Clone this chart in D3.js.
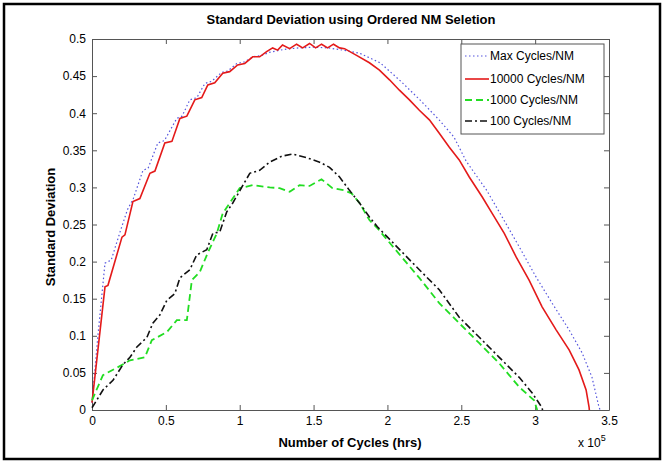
<!DOCTYPE html>
<html>
<head>
<meta charset="utf-8">
<script src="https://cdn.jsdelivr.net/npm/d3@7"></script>
<style>
  body { margin: 0; background: #fff; }
  svg { display: block; font-family: "Liberation Sans", Arial, sans-serif; }
</style>
</head>
<body>
<div id="chart"></div>
<script>
// x values are Number of Cycles (hrs) in units of 10^5
const xTicks = [0, 0.5, 1, 1.5, 2, 2.5, 3, 3.5];
const yTicks = [0, 0.05, 0.1, 0.15, 0.2, 0.25, 0.3, 0.35, 0.4, 0.45, 0.5];
const seriesNames = ["Max Cycles/NM", "10000 Cycles/NM", "1000 Cycles/NM", "100 Cycles/NM"];

const maxCycles = [
  [0, 0.01], [0.04, 0.1], [0.088, 0.198], [0.13, 0.202], [0.19, 0.24], [0.24, 0.27],
  [0.28, 0.285], [0.345, 0.323], [0.38, 0.326], [0.446, 0.36], [0.49, 0.363],
  [0.574, 0.393], [0.61, 0.396], [0.662, 0.418], [0.71, 0.421], [0.764, 0.44],
  [0.81, 0.443], [0.878, 0.455], [0.92, 0.457], [0.98, 0.467], [1.03, 0.469],
  [1.09, 0.476], [1.15, 0.478], [1.2, 0.482], [1.3, 0.486], [1.4, 0.488],
  [1.5, 0.489], [1.6, 0.488], [1.7, 0.485], [1.81, 0.481], [1.95, 0.468],
  [2.08, 0.445], [2.22, 0.418], [2.35, 0.391], [2.45, 0.368], [2.534, 0.335],
  [2.669, 0.297], [2.777, 0.26], [2.892, 0.22], [3.007, 0.179], [3.115, 0.144],
  [3.23, 0.108], [3.318, 0.077], [3.385, 0.044], [3.432, 0.004], [3.44, 0]
];
const cycles10000 = [
  [0, 0.01], [0.088, 0.166], [0.108, 0.168], [0.203, 0.233], [0.223, 0.236],
  [0.277, 0.281], [0.324, 0.285], [0.392, 0.319], [0.426, 0.322], [0.493, 0.36],
  [0.541, 0.362], [0.595, 0.393], [0.642, 0.396], [0.696, 0.418], [0.743, 0.421],
  [0.784, 0.438], [0.831, 0.441], [0.885, 0.454], [0.932, 0.456], [0.986, 0.465],
  [1.034, 0.467], [1.088, 0.476], [1.135, 0.476], [1.182, 0.483], [1.223, 0.488],
  [1.257, 0.485], [1.29, 0.492], [1.338, 0.487], [1.385, 0.493], [1.426, 0.488],
  [1.473, 0.494], [1.514, 0.488], [1.554, 0.493], [1.595, 0.488], [1.635, 0.493],
  [1.676, 0.488], [1.71, 0.487], [1.791, 0.478], [1.878, 0.468], [1.946, 0.458],
  [2.014, 0.445], [2.081, 0.431], [2.149, 0.418], [2.216, 0.404], [2.284, 0.391],
  [2.351, 0.373], [2.419, 0.354], [2.486, 0.337], [2.554, 0.314], [2.642, 0.287],
  [2.709, 0.265], [2.791, 0.238], [2.872, 0.206], [2.959, 0.175], [3.047, 0.139],
  [3.142, 0.108], [3.23, 0.081], [3.297, 0.054], [3.345, 0.027], [3.365, 0.004], [3.367, 0]
];
const cycles1000 = [
  [0, 0.013], [0.074, 0.047], [0.169, 0.057], [0.257, 0.067], [0.358, 0.071],
  [0.405, 0.094], [0.507, 0.105], [0.574, 0.121], [0.642, 0.121], [0.676, 0.175],
  [0.73, 0.186], [0.784, 0.212], [0.845, 0.238], [0.885, 0.265], [0.946, 0.283],
  [1.0, 0.299], [1.088, 0.303], [1.203, 0.3], [1.27, 0.299], [1.338, 0.294],
  [1.405, 0.303], [1.473, 0.302], [1.554, 0.311], [1.628, 0.299], [1.709, 0.296],
  [1.757, 0.292], [1.811, 0.279], [1.878, 0.256], [1.932, 0.245], [2.216, 0.178],
  [2.351, 0.144], [2.486, 0.117], [2.622, 0.09], [2.757, 0.063], [2.892, 0.031],
  [2.993, 0.013], [3.014, 0]
];
const cycles100 = [
  [0, 0.003], [0.074, 0.027], [0.142, 0.04], [0.209, 0.061], [0.257, 0.071],
  [0.304, 0.085], [0.372, 0.098], [0.412, 0.117], [0.459, 0.128], [0.507, 0.148],
  [0.561, 0.157], [0.595, 0.178], [0.662, 0.189], [0.709, 0.209], [0.777, 0.216],
  [0.818, 0.238], [0.865, 0.24], [0.912, 0.267], [0.953, 0.279], [1.068, 0.319],
  [1.135, 0.323], [1.203, 0.334], [1.284, 0.342], [1.358, 0.345], [1.453, 0.34],
  [1.541, 0.334], [1.608, 0.327], [1.676, 0.314], [1.743, 0.296], [1.811, 0.279],
  [1.878, 0.26], [1.932, 0.247], [2.216, 0.189], [2.351, 0.162], [2.486, 0.125],
  [2.622, 0.098], [2.757, 0.071], [2.892, 0.044], [2.98, 0.023], [3.047, 0.003], [3.05, 0]
];

const W = 667, H = 463;
const margin = { top: 39, right: 58, bottom: 53, left: 92 };
const width = W - margin.left - margin.right;
const height = H - margin.top - margin.bottom;

const svg = d3.select("#chart").append("svg")
  .attr("width", W)
  .attr("height", H);

// outer frame
svg.append("rect")
  .attr("x", 4).attr("y", 4)
  .attr("width", 656).attr("height", 455)
  .attr("fill", "none")
  .attr("stroke", "#000")
  .attr("stroke-width", 2.5);

const g = svg.append("g").attr("transform", `translate(${margin.left},${margin.top})`);

const x = d3.scaleLinear().domain([0, 3.5]).range([0, width]);
const y = d3.scaleLinear().domain([0, 0.5]).range([height, 0]);

const fmt = d => String(+d.toFixed(2));

// axes, ticks pointing inward like matlab
g.append("g")
  .attr("transform", `translate(0,${height})`)
  .call(d3.axisBottom(x).tickValues(xTicks).tickFormat(fmt).tickSize(-5).tickSizeOuter(0).tickPadding(6))
  .call(a => a.selectAll("text").attr("font-size", 12).attr("fill", "#000").attr("font-family", "Liberation Sans, Arial, sans-serif"));

g.append("g")
  .call(d3.axisLeft(y).tickValues(yTicks).tickFormat(fmt).tickSize(-5).tickSizeOuter(0).tickPadding(6))
  .call(a => a.selectAll("text").attr("font-size", 12).attr("fill", "#000").attr("font-family", "Liberation Sans, Arial, sans-serif"));

g.append("g")
  .call(d3.axisTop(x).tickValues(xTicks).tickFormat("").tickSize(-5).tickSizeOuter(0));

g.append("g")
  .attr("transform", `translate(${width},0)`)
  .call(d3.axisRight(y).tickValues(yTicks).tickFormat("").tickSize(-5).tickSizeOuter(0));

g.selectAll(".domain, .tick line").attr("stroke", "#555");

// series
const line = d3.line().x(d => x(d[0])).y(d => y(d[1]));

const styles = [
  { data: maxCycles, color: "#5555dd", width: 1.2, dash: "1.5,2.5" },
  { data: cycles10000, color: "#e41a1a", width: 1.6, dash: null },
  { data: cycles1000, color: "#22dd22", width: 1.8, dash: "7,4" },
  { data: cycles100, color: "#111", width: 1.6, dash: "7,3,2,3" }
];

styles.forEach(s => {
  g.append("path")
    .datum(s.data)
    .attr("fill", "none")
    .attr("stroke", s.color)
    .attr("stroke-width", s.width)
    .attr("stroke-dasharray", s.dash)
    .attr("d", line);
});

// legend
const legend = g.append("g").attr("transform", `translate(${461 - margin.left},${44 - margin.top})`);
legend.append("rect")
  .attr("width", 143).attr("height", 90)
  .attr("fill", "#fff")
  .attr("stroke", "#555");
const rowY = [12, 35, 56, 77];
styles.forEach((s, i) => {
  legend.append("line")
    .attr("x1", 4).attr("x2", 28)
    .attr("y1", rowY[i]).attr("y2", rowY[i])
    .attr("stroke", s.color)
    .attr("stroke-width", s.width)
    .attr("stroke-dasharray", s.dash);
  legend.append("text")
    .attr("x", 29).attr("y", rowY[i] + 4)
    .attr("font-size", 12)
    .text(seriesNames[i]);
});

// title and labels
svg.append("text")
  .attr("x", 351).attr("y", 24)
  .attr("text-anchor", "middle")
  .attr("font-size", 13).attr("font-weight", "bold")
  .text("Standard Deviation using Ordered NM Seletion");

svg.append("text")
  .attr("x", 350).attr("y", 447)
  .attr("text-anchor", "middle")
  .attr("font-size", 13).attr("font-weight", "bold")
  .text("Number of Cycles (hrs)");

svg.append("text")
  .attr("transform", "translate(55,227) rotate(-90)")
  .attr("text-anchor", "middle")
  .attr("font-size", 13).attr("font-weight", "bold")
  .text("Standard Deviation");

const mult = svg.append("text")
  .attr("x", 578).attr("y", 447)
  .attr("font-size", 12);
mult.append("tspan").text("x 10");
mult.append("tspan").attr("dy", -6).attr("font-size", 9).text("5");
</script>
</body>
</html>
